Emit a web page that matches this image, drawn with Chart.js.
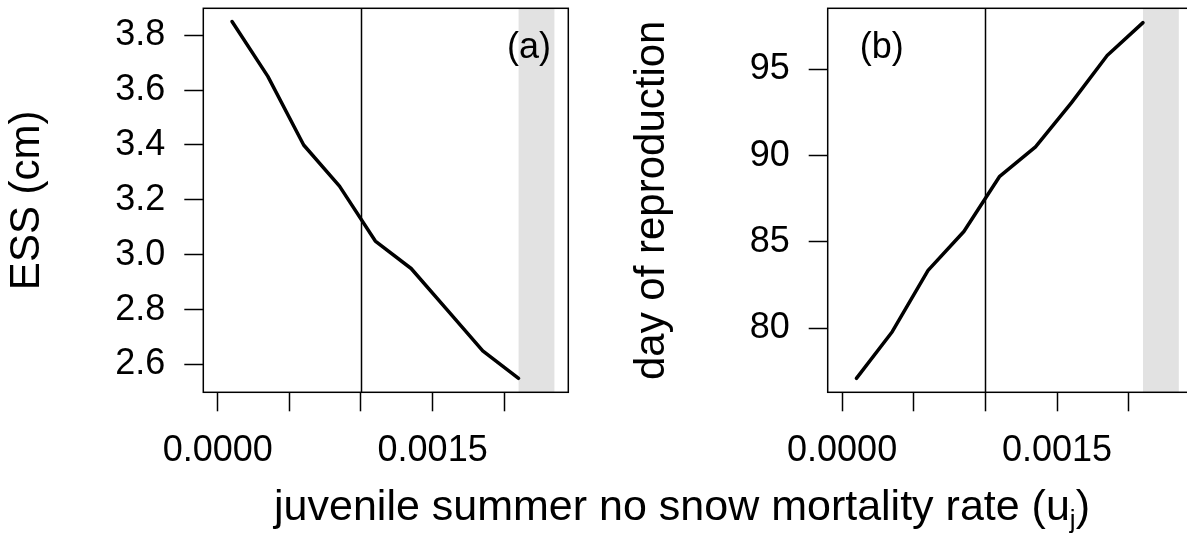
<!DOCTYPE html>
<html>
<head>
<meta charset="utf-8">
<script src="https://cdn.jsdelivr.net/npm/chart.js@4/dist/chart.umd.min.js"></script>
<style>
  html, body { margin: 0; padding: 0; background: #fff; }
  body { position: relative; width: 1187px; height: 537px; overflow: hidden; }
  canvas { position: absolute; top: 0; }
  #chartA { left: 0; }
  #chartB { left: 600px; }
  #xTitle {
    position: absolute; left: 0; width: 1364px; top: 483.6px;
    text-align: center; font: 43px "Liberation Sans", Arial, sans-serif;
    line-height: 43px; color: #000; white-space: nowrap;
  }
  #xTitle sub { font-size: 26px; vertical-align: -8px; line-height: 0; }
</style>
</head>
<body>
<canvas id="chartA" width="600" height="537"></canvas>
<canvas id="chartB" width="600" height="537"></canvas>
<div id="xTitle">juvenile summer no snow mortality rate (u<sub>j</sub>)</div>

<script>
/* juvenile mortality rate vs. ESS size (a) and day of reproduction (b) */

// data
const rate     = [0.0001, 0.00035, 0.0006, 0.00085, 0.0011, 0.00135, 0.0016, 0.00185, 0.0021];
const essSize  = [3.85, 3.65, 3.40, 3.25, 3.05, 2.95, 2.80, 2.65, 2.55];
const reproDay = [77.1, 79.8, 83.35, 85.6, 88.8, 90.5, 93.05, 95.8, 97.7];

// axes
const xTicks      = [0, 0.0005, 0.001, 0.0015, 0.002];
const xTickLabels = ['0.0000', '', '', '0.0015', ''];
const xRange      = [-0.0001005, 0.002447];
const essTicks    = [2.6, 2.8, 3.0, 3.2, 3.4, 3.6, 3.8];
const essRange    = [2.499, 3.898];
const dayTicks    = [80, 85, 90, 95];
const dayRange    = [76.29, 98.53];

// marks
const refRate   = 0.001;             // vertical reference line
const shadeRate = [0.0021, 0.00235]; // shaded region

Chart.defaults.font.family = '"Liberation Sans", Arial, sans-serif';
Chart.defaults.color = '#000';

const panelDecor = {
  id: 'panelDecor',
  beforeDatasetsDraw(chart, args, opts) {
    const { ctx, chartArea: a, scales: { x } } = chart;
    ctx.save();
    // shaded band
    const x0 = x.getPixelForValue(shadeRate[0]);
    const x1 = x.getPixelForValue(shadeRate[1]);
    ctx.fillStyle = '#e2e2e2';
    ctx.fillRect(x0, a.top, x1 - x0, a.bottom - a.top);
    // reference line
    const xr = Math.round(x.getPixelForValue(refRate)) + 0.5;
    ctx.strokeStyle = '#000';
    ctx.lineWidth = 1.5;
    ctx.beginPath();
    ctx.moveTo(xr, a.top);
    ctx.lineTo(xr, a.bottom);
    ctx.stroke();
    ctx.restore();
  },
  afterDatasetsDraw(chart, args, opts) {
    const { ctx, chartArea: a } = chart;
    ctx.save();
    ctx.strokeStyle = '#000';
    ctx.lineWidth = 1.5;
    ctx.strokeRect(a.left, a.top, a.right - a.left, a.bottom - a.top);
    // panel tag
    ctx.font = '36px "Liberation Sans", Arial, sans-serif';
    ctx.fillStyle = '#000';
    ctx.textAlign = 'center';
    ctx.textBaseline = 'alphabetic';
    const tx = opts.fromRight ? a.right - opts.dx : a.left + opts.dx;
    ctx.fillText(opts.tag, tx, 57.6);
    ctx.restore();
  }
};

// drop the extra room Chart.js keeps for edge labels
function noPadding(s) {
  s.paddingTop = 0;
  s.paddingBottom = 0;
  s.paddingLeft = 0;
  s.paddingRight = 0;
}

function drawPanel(id, values, yRange, yTicks, yFmt, yTitle, yWidth, titlePad, tag) {
  const data = rate.map((r, i) => ({ x: r, y: values[i] }));
  return new Chart(document.getElementById(id), {
    type: 'line',
    data: {
      datasets: [{
        data: data,
        borderColor: '#000',
        borderWidth: 3.5,
        borderCapStyle: 'round',
        borderJoinStyle: 'round',
        pointRadius: 0,
        tension: 0,
        fill: false
      }]
    },
    options: {
      responsive: false,
      animation: false,
      events: [],
      layout: { padding: { top: 8.3, right: 600 - yWidth - 365, left: 0, bottom: 0 } },
      plugins: {
        legend: { display: false },
        tooltip: { enabled: false },
        panelDecor: tag
      },
      scales: {
        x: {
          type: 'linear',
          min: xRange[0],
          max: xRange[1],
          afterBuildTicks: s => { s.ticks = xTicks.map(v => ({ value: v })); },
          afterFit: s => { s.height = 537 - 392.3; noPadding(s); },
          ticks: {
            autoSkip: false,
            maxRotation: 0,
            padding: 18,
            font: { size: 36 },
            color: '#000',
            callback: (v, i) => xTickLabels[i]
          },
          grid: {
            drawOnChartArea: false,
            drawTicks: true,
            tickLength: 19,
            tickColor: '#000',
            tickWidth: 1.5
          },
          border: { display: false }
        },
        y: {
          type: 'linear',
          min: yRange[0],
          max: yRange[1],
          afterBuildTicks: s => { s.ticks = yTicks.map(v => ({ value: v })); },
          afterFit: s => { s.width = yWidth; noPadding(s); },
          ticks: {
            autoSkip: false,
            padding: 19,
            font: { size: 36 },
            color: '#000',
            callback: v => yFmt(v)
          },
          grid: {
            drawOnChartArea: false,
            drawTicks: true,
            tickLength: 19,
            tickColor: '#000',
            tickWidth: 1.5
          },
          border: { display: false },
          title: {
            display: true,
            text: yTitle,
            font: { size: 42 },
            color: '#000',
            padding: { top: titlePad, bottom: 0 }
          }
        }
      }
    },
    plugins: [panelDecor]
  });
}

drawPanel('chartA', essSize, essRange, essTicks, v => v.toFixed(1), 'ESS (cm)',
  203.3, 2.7, { tag: '(a)', fromRight: true, dx: 39.3 });
drawPanel('chartB', reproDay, dayRange, dayTicks, v => String(v), 'day of reproduction',
  227.7, 27.6, { tag: '(b)', fromRight: false, dx: 54 });
</script>
</body>
</html>
